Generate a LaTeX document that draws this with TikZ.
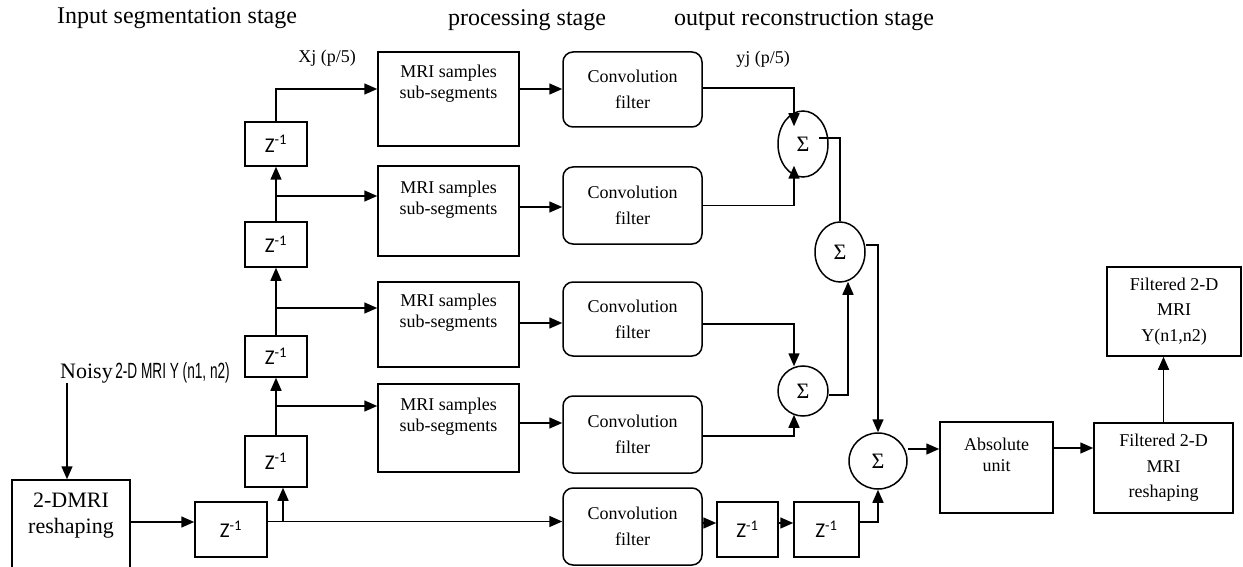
\documentclass[tikz,border=0pt]{standalone}
\usepackage{graphicx}
\usepackage{fontspec}
\setmainfont{Liberation Serif}
\newfontfamily\zfont{Carlito}
\newfontfamily\nfont{Liberation Sans}
\usetikzlibrary{arrows.meta,calc,shapes.geometric}

\begin{document}
\begin{tikzpicture}[x=1pt,y=-1pt,line width=1.5pt,
  arr/.style={-{Triangle[length=13pt,width=11pt]}},
  plainbox/.style={draw,rectangle,inner sep=0pt},
  mribox/.style={plainbox,minimum width=141pt},
  convbox/.style={draw,rectangle,rounded corners=10pt,inner sep=0pt,minimum width=139pt,align=center,font=\fontsize{18}{26}\selectfont},
  zbox/.style={plainbox,font=\zfont\fontsize{21}{22}\selectfont},
  sumnode/.style={draw,ellipse,inner sep=0pt,font=\fontsize{22}{22}\selectfont},
  boxtext/.style={inner sep=0pt,align=center,font=\fontsize{18}{21}\selectfont},
  fbox/.style={plainbox,align=center,font=\fontsize{18}{25.5}\selectfont},
  title/.style={inner sep=0pt,font=\fontsize{24}{26}\selectfont},
  lbl/.style={inner sep=0pt,font=\fontsize{18}{20}\selectfont},
  ]
\useasboundingbox (0,0) rectangle (1243,567);
\clip (0,0) rectangle (1243,567);

% titles
\node[title] (t1) at (177,18) {Input segmentation stage};
\node[title] (t2) at (527,20) {processing stage};
\node[title] (t3) at (804,20) {output reconstruction stage};
\node[lbl] (xj) at (327,58) {Xj (p/5)};
\node[lbl] (yj) at (763,59) {yj (p/5)};

% input side
\node[inner sep=0pt] (noisy) at (145,373) {{\fontsize{22}{24}\selectfont Noisy} {\nfont\fontsize{22}{24}\selectfont\scalebox{0.62}[1]{2-D MRI Y (n1, n2)}}};
\node[plainbox,minimum width=118pt,minimum height=100pt] (r) at (71,530) {};
\node[inner sep=0pt,align=center,font=\fontsize{22}{26}\selectfont] (rt) at (71,516) {2-DMRI\\reshaping};

% delay chain
\node[zbox,minimum width=72pt,minimum height=55pt] (z0) at (231,529.5) {Z\textsuperscript{-1}};
\node[zbox,minimum width=62pt,minimum height=51pt] (z4) at (276,461.5) {Z\textsuperscript{-1}};
\node[zbox,minimum width=62pt,minimum height=41pt] (z3) at (276,356.5) {Z\textsuperscript{-1}};
\node[zbox,minimum width=62pt,minimum height=45pt] (z2) at (276,244.5) {Z\textsuperscript{-1}};
\node[zbox,minimum width=62pt,minimum height=44pt] (z1) at (276,144) {Z\textsuperscript{-1}};

% MRI sub-segment boxes
\node[mribox,minimum height=94pt] (m1) at (448.5,99) {};
\node[mribox,minimum height=90pt] (m2) at (448.5,211) {};
\node[mribox,minimum height=85pt] (m3) at (448.5,324.5) {};
\node[mribox,minimum height=88pt] (m4) at (448.5,428) {};
\node[boxtext] (m1t) at (448.5,84) {MRI samples\\sub-segments};
\node[boxtext] (m2t) at (448.5,199.5) {MRI samples\\sub-segments};
\node[boxtext] (m3t) at (448.5,313) {MRI samples\\sub-segments};
\node[boxtext] (m4t) at (448.5,417) {MRI samples\\sub-segments};

% convolution filters
\node[convbox,minimum height=75pt] (c1) at (632.5,89.5) {Convolution\\filter};
\node[convbox,minimum height=77pt] (c2) at (632.5,205.5) {Convolution\\filter};
\node[convbox,minimum height=74pt] (c3) at (632.5,319) {Convolution\\filter};
\node[convbox,minimum height=77pt] (c4) at (632.5,434.5) {Convolution\\filter};
\node[convbox,minimum height=77pt] (c5) at (632.5,526.5) {Convolution\\filter};

% output delays
\node[zbox,minimum width=61pt,minimum height=55pt] (z5) at (747.5,529.5) {Z\textsuperscript{-1}};
\node[zbox,minimum width=65pt,minimum height=55pt] (z6) at (826.5,529.5) {Z\textsuperscript{-1}};

% summers
\node[sumnode,minimum width=50pt,minimum height=66pt] (s1) at (803,144) {Σ};
\node[sumnode,minimum width=50pt,minimum height=60pt] (s2) at (840,252) {Σ};
\node[sumnode,minimum width=50pt,minimum height=50pt] (s3) at (803,391) {Σ};
\node[sumnode,minimum width=58pt,minimum height=56pt] (s4) at (878,461) {Σ};

% output blocks
\node[plainbox,minimum width=113pt,minimum height=91pt] (a) at (996.5,467.5) {};
\node[boxtext] (at) at (996.5,454.5) {Absolute\\unit};
\node[fbox,minimum width=139pt,minimum height=90pt] (f) at (1163.5,468) {Filtered 2-D\\MRI\\reshaping};
\node[fbox,minimum width=134pt,minimum height=89pt] (o) at (1174,311.5) {Filtered 2-D\\MRI\\Y(n1,n2)};

% coordinates
\coordinate (nb) at (67,383);
\coordinate (b1) at (276,89);
\coordinate (b2) at (276,196);
\coordinate (b3) at (276,308);
\coordinate (b4) at (276,406);
\coordinate (b5) at (283,521.5);

% input connectors
\draw[arr] (nb) -- (nb |- r.north);
\draw[arr] ([yshift=8pt]r.east) -- ([yshift=8pt]r.east -| z0.west);
\draw[arr] ([yshift=8pt]z0.east) -- ([yshift=8pt]z0.east -| c5.west);
\draw[arr] (b5) -- (b5 |- z4.south);
\draw[arr] (z4.north) -- (z3.south);
\draw[arr] (z3.north) -- (z2.south);
\draw[arr] (z2.north) -- (z1.south);
\draw[arr] (z1.north) -- (b1) -- (b1 -| m1.west);
\draw[arr] (b2) -- (b2 -| m2.west);
\draw[arr] (b3) -- (b3 -| m3.west);
\draw[arr] (b4) -- (b4 -| m4.west);

% MRI -> conv
\draw[arr] ([yshift=10pt]m1.east) -- ([yshift=10pt]m1.east -| c1.west);
\draw[arr] ([yshift=4pt]m2.east) -- ([yshift=4pt]m2.east -| c2.west);
\draw[arr] ([yshift=1.5pt]m3.east) -- ([yshift=1.5pt]m3.east -| c3.west);
\draw[arr] ([yshift=5pt]m4.east) -- ([yshift=5pt]m4.east -| c4.west);

% conv -> summers
\draw[arr] ([yshift=1.5pt]c1.east) -| ([xshift=-9pt,yshift=-16pt]s1.north);
\draw[arr] (c2.east) -| ([xshift=-9pt,yshift=12pt]s1.south);
\draw[arr] ([yshift=-5pt]c3.east) -| ([xshift=-9pt,yshift=-1pt]s3.north);
\draw[arr] ([yshift=-1.5pt]c4.east) -| ([xshift=-9pt,yshift=2pt]s3.south);
\draw ([xshift=-10pt,yshift=6pt]s1.east) -| (s2.north);
\draw[arr] ([yshift=-4pt]s3.east) -| ([xshift=8pt,yshift=1pt]s2.south);
\draw[arr] ([yshift=7pt]s2.east) -| (s4.north);

% bottom branch
\draw[arr] ([yshift=3.5pt]c5.east) -- ([yshift=3.5pt]c5.east -| z5.west);
\draw[arr] ([yshift=6.5pt]z5.east) -- ([yshift=6.5pt]z5.east -| z6.west);
\draw[arr] ([yshift=7.5pt]z6.east) -| (s4.south);

% output chain
\draw[arr] ([yshift=12pt]s4.east) -- ([yshift=12pt]s4.east -| a.west);
\draw[arr] ([yshift=19.5pt]a.east) -- ([yshift=19.5pt]a.east -| f.west);
\draw[arr] (f.north) -- (f.north |- o.south);
\end{tikzpicture}
\end{document}
